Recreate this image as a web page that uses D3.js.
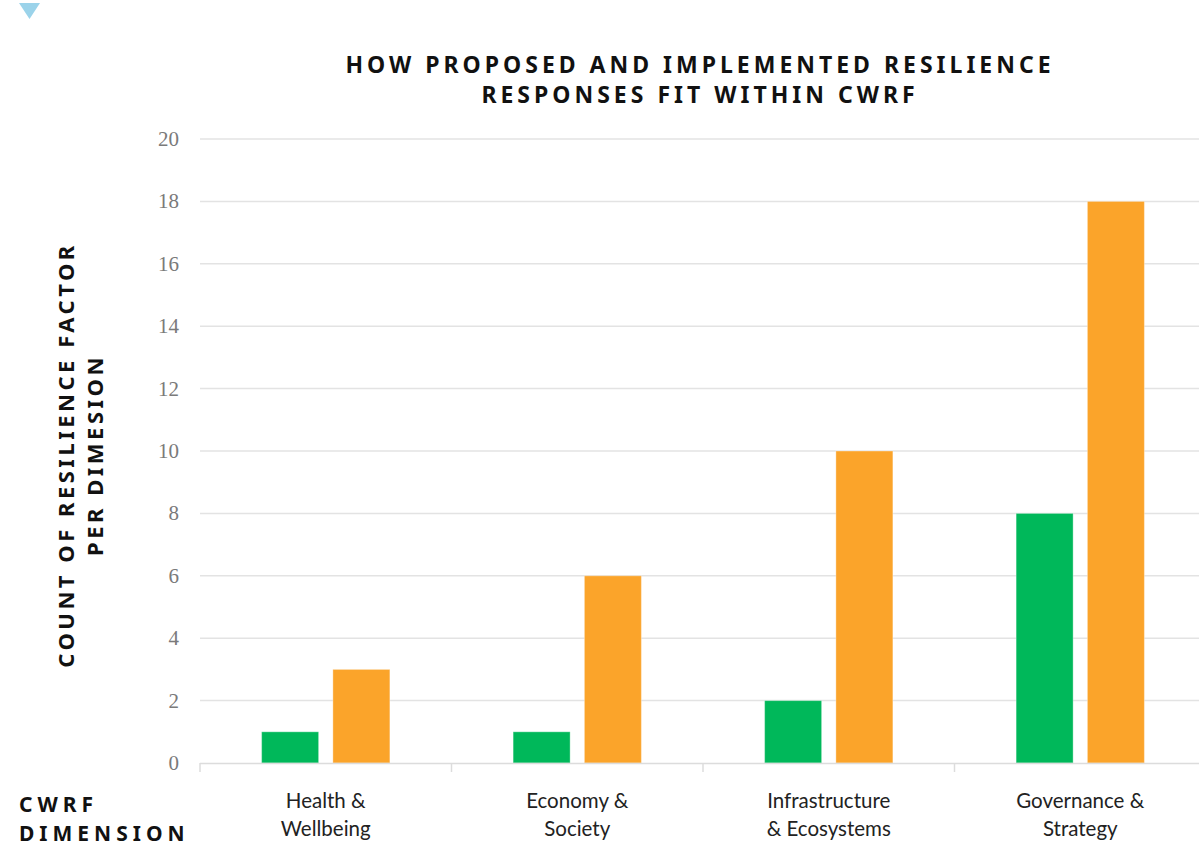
<!DOCTYPE html>
<html>
<head>
<meta charset="utf-8">
<script src="https://cdn.jsdelivr.net/npm/d3@7"></script>
<style>
  body { margin: 0; background: #fff; }
  svg { display: block; }
</style>
</head>
<body>
<div id="chart"></div>
<script>
// data
var categories = [["Health &", "Wellbeing"], ["Economy &", "Society"], ["Infrastructure", "& Ecosystems"], ["Governance &", "Strategy"]];
var series = ["Implemented", "Proposed"];
var implemented = [1, 1, 2, 8];
var proposed = [3, 6, 10, 18];
var yTicks = [0, 2, 4, 6, 8, 10, 12, 14, 16, 18, 20];
var colors = ["#00b85a", "#fba42a"];

var width = 1199, height = 847;
var svg = d3.select("#chart").append("svg")
  .attr("width", width)
  .attr("height", height);

// little marker top left
svg.append("path")
  .attr("d", "M19,3 L40,3 L29.5,19 Z")
  .attr("fill", "#9bd3ea");

var x0 = d3.scaleBand()
  .domain(d3.range(categories.length))
  .range([200, 1206]);

var bw = x0.bandwidth();
var x1 = d3.scaleBand()
  .domain(series)
  .range([bw * 0.245, bw * 0.755])
  .paddingInner(0.2);

var y = d3.scaleLinear()
  .domain([0, 20])
  .range([763, 139]);

// gridlines
svg.append("g")
  .selectAll("line")
  .data(yTicks.slice(1))
  .enter().append("line")
    .attr("x1", 200)
    .attr("x2", 1199)
    .attr("y1", function(d) { return y(d); })
    .attr("y2", function(d) { return y(d); })
    .attr("stroke", "#e3e3e3")
    .attr("stroke-width", 1.5);

// y tick labels
svg.append("g")
  .selectAll("text")
  .data(yTicks)
  .enter().append("text")
    .attr("x", 179)
    .attr("y", function(d) { return y(d) + 7; })
    .attr("text-anchor", "end")
    .attr("font-family", "Liberation Serif, serif")
    .attr("font-size", 21)
    .attr("fill", "#7a7a7a")
    .text(function(d) { return d; });

// bars
var rows = categories.map(function(c, i) {
  return [
    { s: series[0], v: implemented[i], c: colors[0] },
    { s: series[1], v: proposed[i], c: colors[1] }
  ];
});

svg.append("g")
  .selectAll("g")
  .data(rows)
  .enter().append("g")
    .attr("transform", function(d, i) { return "translate(" + x0(i) + ",0)"; })
  .selectAll("rect")
  .data(function(d) { return d; })
  .enter().append("rect")
    .attr("x", function(d) { return x1(d.s); })
    .attr("y", function(d) { return y(d.v); })
    .attr("width", x1.bandwidth())
    .attr("height", function(d) { return y(0) - y(d.v); })
    .attr("fill", function(d) { return d.c; })
    .attr("stroke", "#fff")
    .attr("stroke-opacity", 0.35)
    .attr("stroke-width", 1);

// x axis baseline and ticks
var axis = svg.append("g");
axis.append("line")
  .attr("x1", 200).attr("x2", 1199)
  .attr("y1", 763.5).attr("y2", 763.5)
  .attr("stroke", "#dcdcdc")
  .attr("stroke-width", 1.5);
axis.selectAll(".tk")
  .data(d3.range(categories.length))
  .enter().append("line")
    .attr("x1", function(d) { return x0(d); })
    .attr("x2", function(d) { return x0(d); })
    .attr("y1", 763)
    .attr("y2", 772)
    .attr("stroke", "#dcdcdc")
    .attr("stroke-width", 1.5);

// category labels
var lab = svg.append("g")
  .selectAll("text")
  .data(categories)
  .enter().append("text")
    .attr("text-anchor", "middle")
    .attr("font-family", "Lato, sans-serif")
    .attr("font-size", 20.5)
    .attr("fill", "#222");
lab.selectAll("tspan")
  .data(function(d, i) { return d.map(function(t) { return { t: t, i: i }; }); })
  .enter().append("tspan")
    .attr("x", function(d) { return x0(d.i) + bw / 2; })
    .attr("y", function(d, j) { return 808 + j * 28; })
    .text(function(d) { return d.t; });

// title
var title = svg.append("text")
  .attr("text-anchor", "middle")
  .attr("font-family", "Noto Sans, sans-serif")
  .attr("font-weight", 700)
  .attr("font-size", 23)
  .attr("letter-spacing", 4)
  .attr("fill", "#111");
title.append("tspan").attr("x", 700).attr("y", 73).text("HOW PROPOSED AND IMPLEMENTED RESILIENCE");
title.append("tspan").attr("x", 700).attr("y", 103).text("RESPONSES FIT WITHIN CWRF");

// y axis title
var yt = svg.append("text")
  .attr("transform", "translate(0,455) rotate(-90)")
  .attr("text-anchor", "middle")
  .attr("font-family", "Noto Sans, sans-serif")
  .attr("font-weight", 700)
  .attr("font-size", 22)
  .attr("letter-spacing", 3.5)
  .attr("fill", "#111");
yt.append("tspan").attr("x", 0).attr("y", 74).text("COUNT OF RESILIENCE FACTOR");
yt.append("tspan").attr("x", 0).attr("y", 103).text("PER DIMESION");

// x axis title
var xt = svg.append("text")
  .attr("font-family", "Noto Sans, sans-serif")
  .attr("font-weight", 700)
  .attr("font-size", 21)
  .attr("letter-spacing", 5)
  .attr("fill", "#111");
xt.append("tspan").attr("x", 19).attr("y", 812).text("CWRF");
xt.append("tspan").attr("x", 19).attr("y", 841).text("DIMENSION");
</script>
</body>
</html>
